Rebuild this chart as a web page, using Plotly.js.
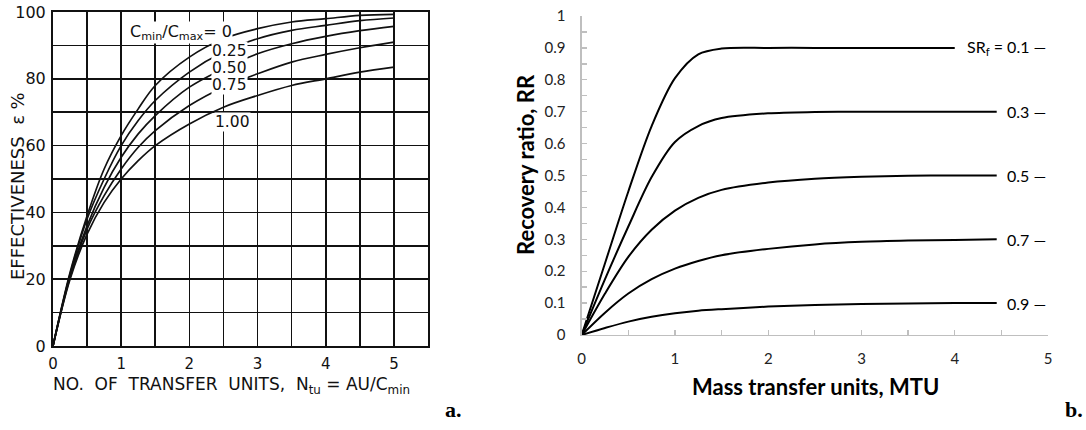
<!DOCTYPE html>
<html>
<head>
<meta charset="utf-8">
<script src="https://cdn.plot.ly/plotly-3.0.1.min.js"></script>
<style>html,body{margin:0;padding:0;background:#fff;}#chart{width:1086px;height:430px;}</style>
</head>
<body>
<div id="chart"></div>
<script>
// ---------- Panel a: effectiveness vs number of transfer units ----------
const ntu = [0, 0.25, 0.5, 0.75, 1, 1.25, 1.5, 2, 2.5, 3, 3.5, 4, 4.5, 5];
const effC000 = [0, 22, 39, 53, 63, 71, 78, 86.5, 92, 95, 97, 98, 99, 99.3];
const effC025 = [0, 21.5, 38, 50, 60, 67.5, 73.5, 82, 88, 92, 94.5, 96, 97.4, 98.2];
const effC050 = [0, 21, 36, 47.5, 56.5, 63.5, 69, 77.5, 83, 87.5, 90.5, 92.7, 94.4, 95.7];
const effC075 = [0, 20.5, 35, 45, 53, 59.5, 64.5, 72, 77.5, 81.5, 85, 87.3, 89.3, 91];
const effC100 = [0, 20, 33.5, 43, 50, 55.5, 60, 66.5, 71.5, 75, 78, 80, 82, 83.5];
const ratioLabels = ["C<sub>min</sub>/C<sub>max</sub>= 0", "0.25", "0.50", "0.75", "1.00"];

// ---------- Panel b: recovery ratio vs mass transfer units ----------
const mtuA = [0, 0.25, 0.5, 0.75, 1, 1.25, 1.5, 2, 2.5, 3, 3.5, 4.0];
const rrSR01 = [0, 0.225, 0.45, 0.655, 0.805, 0.88, 0.898, 0.9, 0.9, 0.9, 0.9, 0.9];
const mtuB = [0, 0.25, 0.5, 0.75, 1, 1.25, 1.5, 2, 2.5, 3, 3.5, 4, 4.45];
const rrSR03 = [0, 0.175, 0.34, 0.495, 0.605, 0.655, 0.68, 0.695, 0.699, 0.7, 0.7, 0.7, 0.7];
const rrSR05 = [0, 0.13, 0.245, 0.33, 0.39, 0.43, 0.455, 0.478, 0.49, 0.496, 0.499, 0.5, 0.5];
const rrSR07 = [0, 0.07, 0.13, 0.175, 0.208, 0.232, 0.25, 0.27, 0.284, 0.292, 0.296, 0.298, 0.3];
const rrSR09 = [0, 0.022, 0.042, 0.057, 0.068, 0.076, 0.081, 0.089, 0.094, 0.097, 0.099, 0.1, 0.1];
const srLabels = ["SR<sub>f</sub> = 0.1 \u2014", "0.3 \u2014", "0.5 \u2014", "0.7 \u2014", "0.9 \u2014"];
const srLevels = [0.9, 0.7, 0.5, 0.3, 0.1];

const W = 1086, H = 430;
const px = x => x / W;
const py = y => 1 - y / H;

const leftFont = "DejaVu Sans, sans-serif";
const rightFont = "Lato, Open Sans, sans-serif";

function curveA(y) {
  return {x: ntu, y: y, xaxis: 'x', yaxis: 'y', mode: 'lines',
    line: {color: '#111', width: 1.7, shape: 'spline', smoothing: 1}, hoverinfo: 'skip', showlegend: false, cliponaxis: false};
}
function curveB(x, y) {
  return {x: x, y: y, xaxis: 'x2', yaxis: 'y2', mode: 'lines',
    line: {color: '#000', width: 2, shape: 'spline', smoothing: 0.9}, hoverinfo: 'skip', showlegend: false, cliponaxis: false};
}

const traces = [
  curveA(effC000), curveA(effC025), curveA(effC050), curveA(effC075), curveA(effC100),
  curveB(mtuA, rrSR01), curveB(mtuB, rrSR03), curveB(mtuB, rrSR05), curveB(mtuB, rrSR07), curveB(mtuB, rrSR09)
];

// label positions (pixels) for panel a
const ratioPos = [[181, 32], [229, 51], [229, 68], [229, 85], [232, 122]];
const annotations = [];
ratioLabels.forEach((t, i) => {
  annotations.push({text: t, xref: 'paper', yref: 'paper', x: px(ratioPos[i][0]), y: py(ratioPos[i][1]),
    xanchor: 'center', yanchor: 'middle', showarrow: false, bgcolor: '#fff', borderpad: 0,
    font: {family: leftFont, size: i === 0 ? 16 : 15.5, color: '#111'}});
});
srLabels.forEach((t, i) => {
  annotations.push({text: t, xref: 'x2', yref: 'y2', x: 5, y: srLevels[i], xanchor: 'right', yanchor: 'middle',
    showarrow: false, font: {family: rightFont, size: 16, color: '#000'}});
});
// axis titles
annotations.push({text: 'EFFECTIVENESS  \u03b5 %', xref: 'paper', yref: 'paper', x: px(18), y: py(186),
  textangle: -90, xanchor: 'center', yanchor: 'middle', showarrow: false, font: {family: leftFont, size: 18, color: '#111'}});
annotations.push({text: 'NO.  OF  TRANSFER  UNITS,  N<sub>tu</sub> = AU/C<sub>min</sub>', xref: 'paper', yref: 'paper', x: px(51), y: py(385),
  xanchor: 'left', yanchor: 'middle', showarrow: false, font: {family: leftFont, size: 17, color: '#111'}});
annotations.push({text: '<b>Recovery ratio, RR</b>', xref: 'paper', yref: 'paper', x: px(525), y: py(165),
  textangle: -90, xanchor: 'center', yanchor: 'middle', showarrow: false, font: {family: rightFont, size: 22, color: '#000'}});
annotations.push({text: '<b>Mass transfer units, MTU</b>', xref: 'paper', yref: 'paper', x: px(815), y: py(386),
  xanchor: 'center', yanchor: 'middle', showarrow: false, font: {family: rightFont, size: 22, color: '#000'}});
annotations.push({text: '<b>a.</b>', xref: 'paper', yref: 'paper', x: px(453), y: py(409),
  xanchor: 'center', yanchor: 'middle', showarrow: false, font: {family: 'Liberation Serif, serif', size: 22, color: '#000'}});
annotations.push({text: '<b>b.</b>', xref: 'paper', yref: 'paper', x: px(1074), y: py(409),
  xanchor: 'center', yanchor: 'middle', showarrow: false, font: {family: 'Liberation Serif, serif', size: 22, color: '#000'}});

const layout = {
  width: W, height: H,
  margin: {l: 0, r: 0, t: 0, b: 0},
  paper_bgcolor: '#fff', plot_bgcolor: '#fff',
  showlegend: false,
  xaxis: {domain: [px(53), px(428)], range: [0, 5.5], anchor: 'y', tick0: 0, dtick: 1,
    showgrid: true, gridcolor: '#111', gridwidth: 1.6,
    minor: {dtick: 0.5, showgrid: true, gridcolor: '#111', gridwidth: 1.6},
    showline: true, mirror: true, linecolor: '#111', linewidth: 2, zeroline: false, ticks: '',
    ticklabelstandoff: 3, tickfont: {family: leftFont, size: 15, color: '#111'}, fixedrange: true},
  yaxis: {domain: [py(346), py(12)], range: [0, 100], anchor: 'x', tick0: 0, dtick: 20,
    showgrid: true, gridcolor: '#111', gridwidth: 1.6,
    minor: {dtick: 10, showgrid: true, gridcolor: '#111', gridwidth: 1.6},
    showline: true, mirror: true, linecolor: '#111', linewidth: 2, zeroline: false, ticks: '',
    ticklabelstandoff: 2, tickfont: {family: leftFont, size: 16, color: '#111'}, fixedrange: true},
  xaxis2: {domain: [px(581.7), px(1048)], range: [0, 5], anchor: 'y2', tick0: 0, dtick: 1,
    showgrid: false, zeroline: false, showline: true, linecolor: '#bfbfbf', linewidth: 1.3,
    ticks: 'inside', ticklen: 5, tickcolor: '#bfbfbf', tickwidth: 1.3,
    minor: {dtick: 0.5, ticks: 'inside', ticklen: 5, tickcolor: '#bfbfbf', tickwidth: 1.3},
    ticklabelstandoff: 10, tickfont: {family: rightFont, size: 15, color: '#222'}, fixedrange: true},
  yaxis2: {domain: [py(335), py(16)], range: [0, 1], anchor: 'x2', tick0: 0, dtick: 0.1,
    showgrid: false, zeroline: false, showline: true, linecolor: '#bfbfbf', linewidth: 1.3,
    ticks: 'inside', ticklen: 5, tickcolor: '#bfbfbf', tickwidth: 1.3,
    minor: {dtick: 0.05, ticks: 'inside', ticklen: 5, tickcolor: '#bfbfbf', tickwidth: 1.3},
    ticklabelstandoff: 12, tickfont: {family: rightFont, size: 15, color: '#222'}, fixedrange: true},
  annotations: annotations
};

Plotly.newPlot('chart', traces, layout, {displayModeBar: false, staticPlot: true});
</script>
</body>
</html>
